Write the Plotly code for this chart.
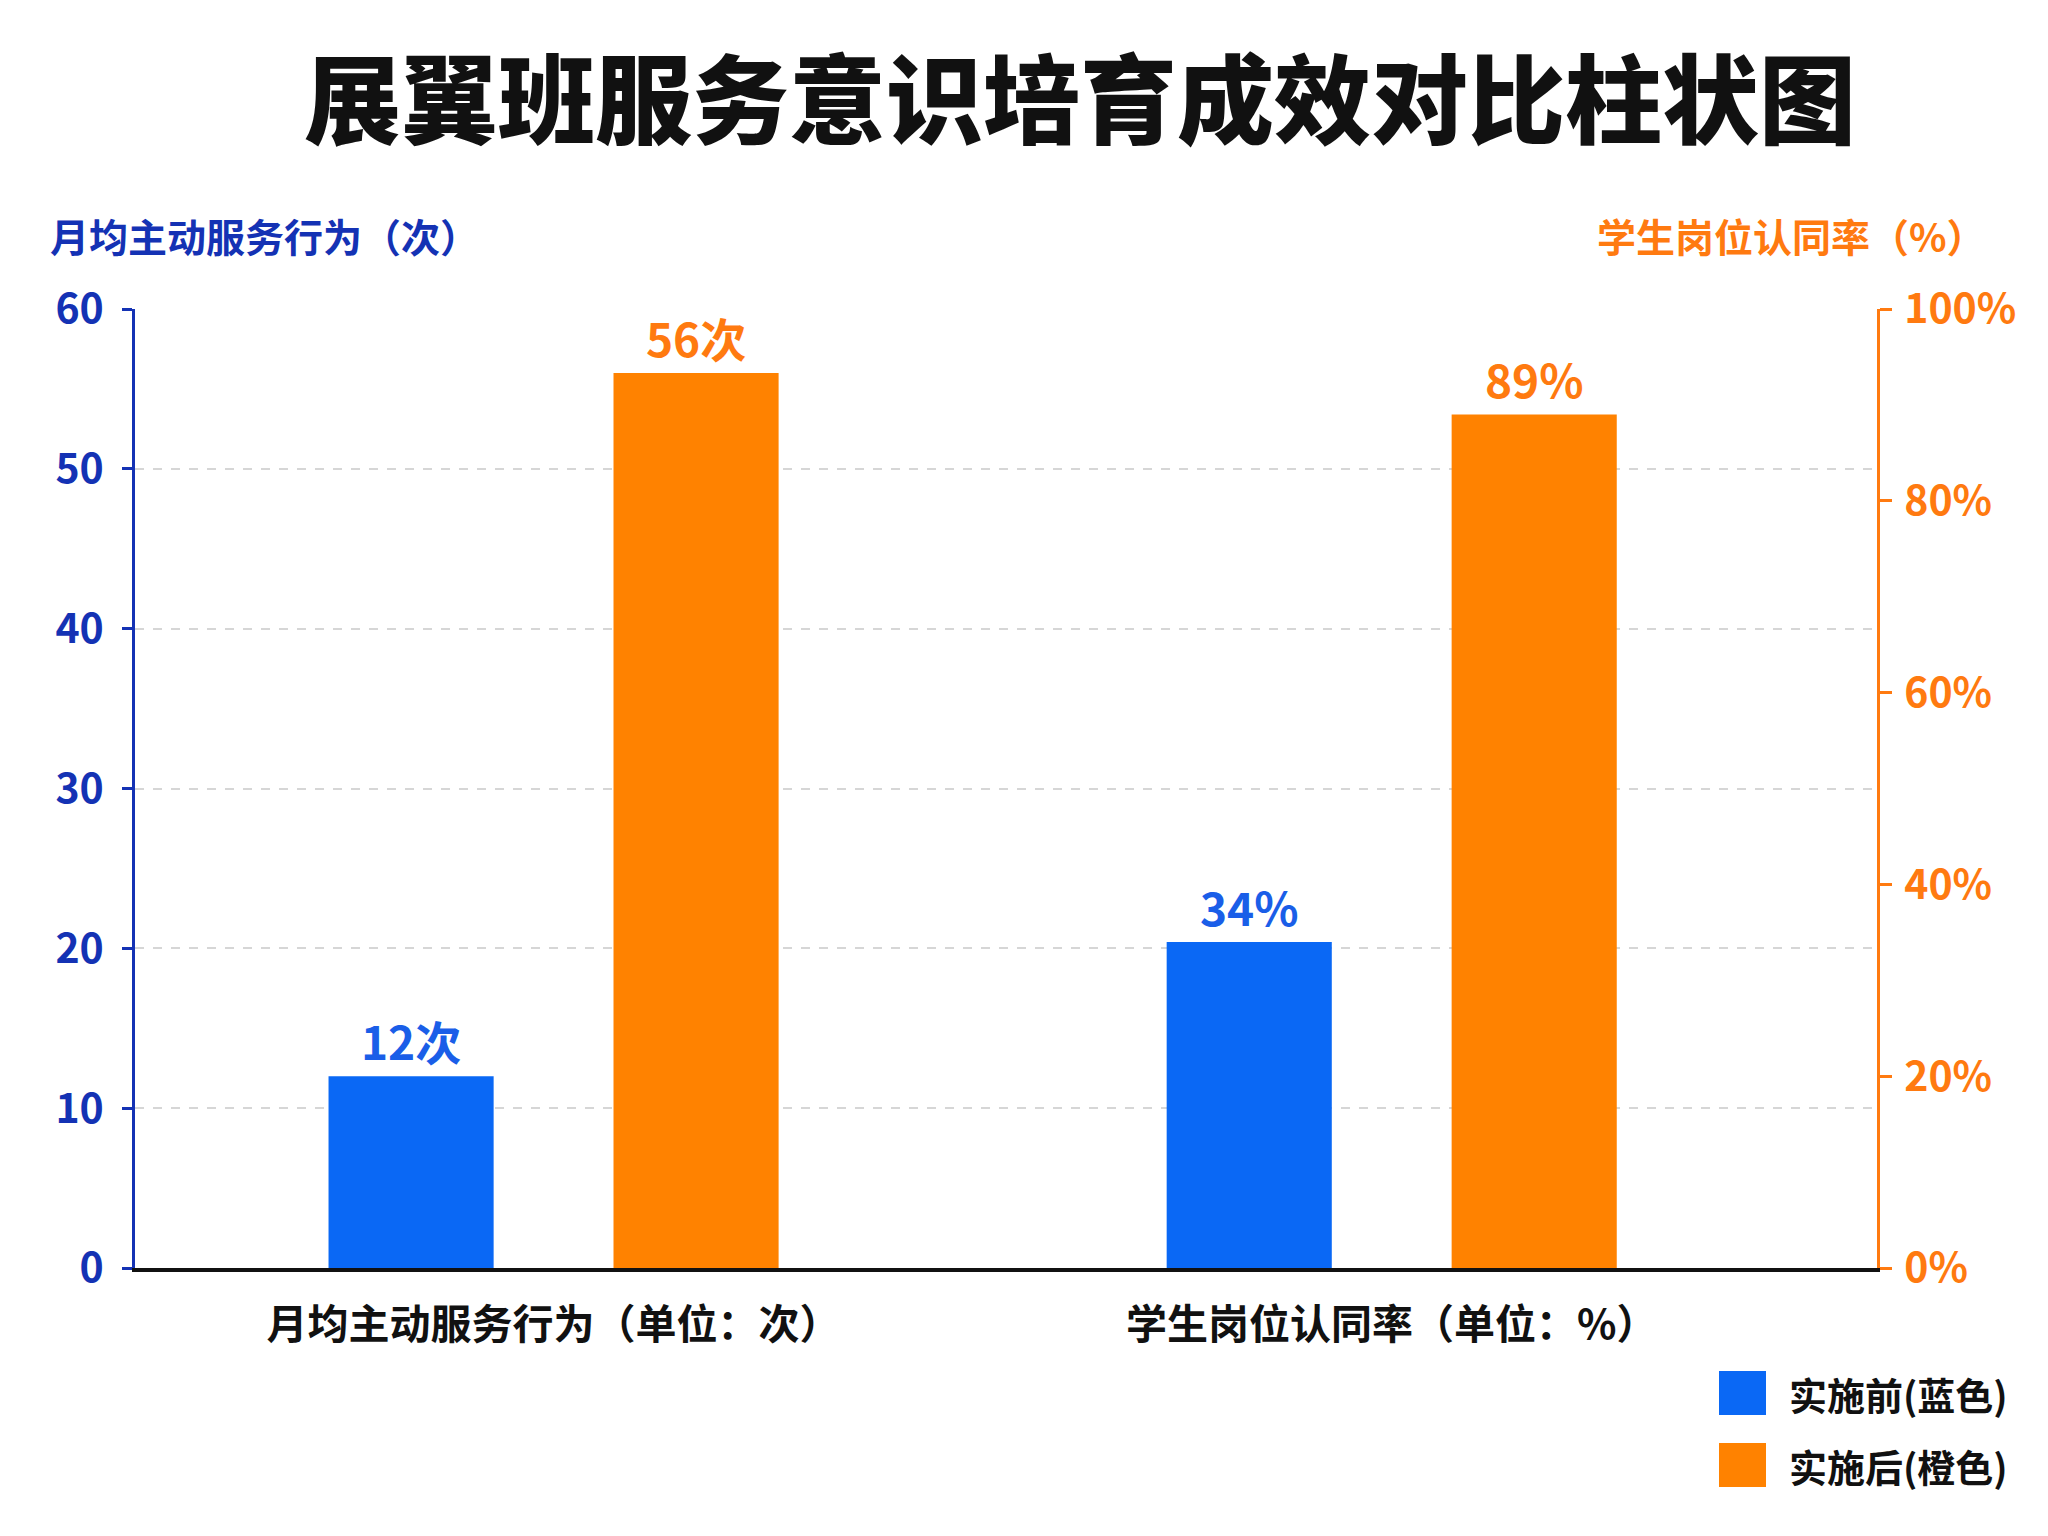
import plotly.graph_objects as go

categories = ["月均主动服务行为（单位：次）", "学生岗位认同率（单位：%）"]
series_names = ["实施前(蓝色)", "实施后(橙色)"]
before_values = [12, 34]
after_values = [56, 89]
units = ["次", "%"]
left_ticks = [0, 10, 20, 30, 40, 50, 60]
right_ticks = [0, 20, 40, 60, 80, 100]
right_ticktext = ["0%", "20%", "40%", "60%", "80%", "100%"]

BLUE = "#0a68f5"
ORANGE = "#ff8200"
DARKBLUE = "#1432b4"
ORANGE_TXT = "#ff7a10"
FONT = "Noto Sans CJK SC"

W, H = 2048, 1536
ml, mr, mt, mb = 135, 2048 - 1877, 309, 1536 - 1268
pw, ph = W - ml - mr, H - mt - mb

def px_x(px):
    return (px - ml) / pw

def px_y(py):
    return (H - mb - py) / ph

fig = go.Figure()
offsets = [-0.17, 0.17]
bw = 0.197
series = [
    (series_names[0], before_values, BLUE, "#1a5ee8"),
    (series_names[1], after_values, ORANGE, ORANGE_TXT),
]
for si, (name, vals, col, tcol) in enumerate(series):
    for ci in range(len(categories)):
        fig.add_trace(go.Bar(
            x=[ci], y=[vals[ci]], name=name,
            legendgroup=name, showlegend=False,
            yaxis="y" if ci == 0 else "y2",
            marker=dict(color=col, line=dict(width=0)),
            width=bw, offset=offsets[si] - bw / 2,
            text=[f"{vals[ci]}{units[ci]}"], textposition="outside",
            textfont=dict(family=FONT, size=46, color=tcol, weight="bold"),
            cliponaxis=False,
        ))

# legend key (swatches + labels), placed at the bottom right as in the reference
shapes = []
annotations = []
legend_rows = [1393, 1465]
for (name, vals, col, tcol), cy in zip(series, legend_rows):
    shapes.append(dict(type="rect", xref="paper", yref="paper",
                       x0=px_x(1719), x1=px_x(1766), y0=px_y(cy - 22), y1=px_y(cy + 22),
                       fillcolor=col, line=dict(width=0)))
    annotations.append(dict(text=name, xref="paper", yref="paper",
                            x=px_x(1787), y=px_y(cy), xanchor="left", yanchor="middle",
                            showarrow=False,
                            font=dict(family=FONT, size=38, color="#111111", weight="bold")))

annotations += [
    dict(text="月均主动服务行为（次）", xref="paper", yref="paper",
         x=px_x(48), y=px_y(235), xanchor="left", yanchor="middle", showarrow=False,
         font=dict(family=FONT, size=39, color=DARKBLUE, weight="bold")),
    dict(text="学生岗位认同率（%）", xref="paper", yref="paper",
         x=px_x(1988), y=px_y(235), xanchor="right", yanchor="middle", showarrow=False,
         font=dict(family=FONT, size=39, color=ORANGE_TXT, weight="bold")),
]

fig.update_layout(
    width=W, height=H,
    margin=dict(l=ml, r=mr, t=mt, b=mb),
    paper_bgcolor="white", plot_bgcolor="white",
    barmode="overlay",
    showlegend=False,
    font=dict(family=FONT),
    title=dict(text="展翼班服务意识培育成效对比柱状图", x=1080 / W, xanchor="center",
               y=1 - 102 / H, yanchor="middle", xref="container", yref="container",
               font=dict(family=FONT, size=97, color="#111111", weight=900)),
    xaxis=dict(range=[-0.4994, 1.579], tickvals=[0, 1], ticktext=categories,
               showgrid=False, zeroline=False, showline=True, linecolor="#111111",
               linewidth=4, ticks="", ticklabelstandoff=18,
               tickfont=dict(family=FONT, size=41, color="#111111", weight="bold")),
    yaxis=dict(range=[0, 60], tickvals=left_ticks, showgrid=True, gridcolor="#d6d6d6",
               griddash="dash", gridwidth=2, zeroline=False, showline=True,
               linecolor=DARKBLUE, linewidth=3, ticks="outside", ticklen=10,
               tickcolor=DARKBLUE, tickwidth=3, ticklabelstandoff=10,
               tickfont=dict(family=FONT, size=41, color=DARKBLUE, weight="bold")),
    yaxis2=dict(range=[0, 100], tickvals=right_ticks, ticktext=right_ticktext,
                overlaying="y", side="right", showgrid=False, zeroline=False,
                showline=True, linecolor=ORANGE_TXT, linewidth=3, ticks="outside",
                ticklen=12, tickcolor=ORANGE_TXT, tickwidth=3, ticklabelstandoff=4,
                tickfont=dict(family=FONT, size=41, color=ORANGE_TXT, weight="bold")),
    shapes=shapes,
    annotations=annotations,
)

fig.write_html("out.html")
